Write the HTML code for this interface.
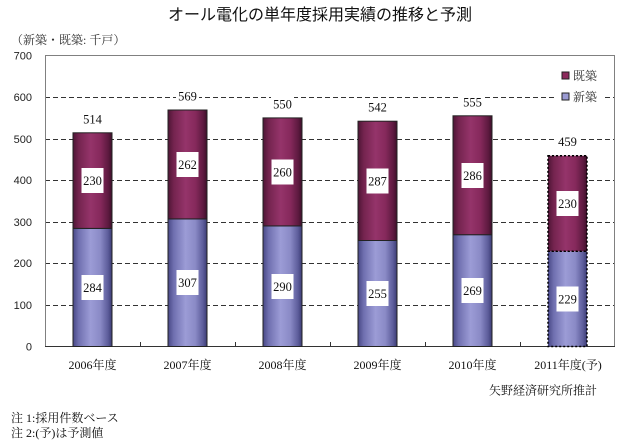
<!DOCTYPE html>
<html><head><meta charset="utf-8"><style>
html,body{margin:0;padding:0;background:#fff;}
svg{display:block;}
.ser{font-family:"Liberation Serif","Noto Serif CJK SC",serif;}
.san{font-family:"Liberation Sans","Noto Sans CJK JP",sans-serif;}
</style></head><body>
<svg width="640" height="441" viewBox="0 0 640 441" xmlns="http://www.w3.org/2000/svg">
<defs>
<linearGradient id="gm" x1="0" x2="1" y1="0" y2="0">
<stop offset="0" stop-color="#4e1535"/>
<stop offset="0.15" stop-color="#74244f"/>
<stop offset="0.45" stop-color="#95346a"/>
<stop offset="0.7" stop-color="#86295c"/>
<stop offset="0.9" stop-color="#5e1a40"/>
<stop offset="1" stop-color="#3e0f29"/>
</linearGradient>
<linearGradient id="gb" x1="0" x2="1" y1="0" y2="0">
<stop offset="0" stop-color="#484886"/>
<stop offset="0.15" stop-color="#7070b0"/>
<stop offset="0.45" stop-color="#9c9cd6"/>
<stop offset="0.7" stop-color="#8a8ac6"/>
<stop offset="0.9" stop-color="#5c5c9a"/>
<stop offset="1" stop-color="#3c3c74"/>
</linearGradient>
</defs>
<rect width="640" height="441" fill="#fff"/>

<text x="320" y="20" text-anchor="middle" class="san" font-size="16" fill="#111">オール電化の単年度採用実績の推移と予測</text>
<text x="11" y="44" class="ser" font-size="12" fill="#333">（新築・既築: 千戸）</text>

<!-- gridlines -->
<g stroke="#333" stroke-width="1" stroke-dasharray="5,3" fill="none">
<line x1="45" x2="615" y1="97.5" y2="97.5"/>
<line x1="45" x2="615" y1="139.5" y2="139.5"/>
<line x1="45" x2="615" y1="180.5" y2="180.5"/>
<line x1="45" x2="615" y1="222.5" y2="222.5"/>
<line x1="45" x2="615" y1="263.5" y2="263.5"/>
<line x1="45" x2="615" y1="305.5" y2="305.5"/>
</g>
<!-- plot border -->
<path d="M45.5 346.5 V55.5 H614.5 V346.5" fill="none" stroke="#808080" stroke-width="1"/>
<line x1="45" x2="615" y1="346.5" y2="346.5" stroke="#333" stroke-width="1"/>
<g stroke="#333" stroke-width="1">
<line x1="140.5" x2="140.5" y1="342" y2="346"/>
<line x1="235.5" x2="235.5" y1="342" y2="346"/>
<line x1="330.5" x2="330.5" y1="342" y2="346"/>
<line x1="425.5" x2="425.5" y1="342" y2="346"/>
<line x1="520.5" x2="520.5" y1="342" y2="346"/>
</g>

<!-- y labels -->
<g class="san" font-size="11" fill="#222" text-anchor="end">
<text x="32" y="59.5">700</text>
<text x="32" y="101">600</text>
<text x="32" y="143">500</text>
<text x="32" y="184">400</text>
<text x="32" y="226">300</text>
<text x="32" y="267">200</text>
<text x="32" y="309">100</text>
<text x="32" y="350.5">0</text>
</g>

<!-- bars -->
<g stroke="#222" stroke-width="1">
<rect x="73" y="228.4" width="39" height="118.1" fill="url(#gb)"/>
<rect x="73" y="132.8" width="39" height="95.6" fill="url(#gm)"/>
<rect x="168" y="218.9" width="39" height="127.6" fill="url(#gb)"/>
<rect x="168" y="110" width="39" height="108.9" fill="url(#gm)"/>
<rect x="263" y="225.9" width="39" height="120.6" fill="url(#gb)"/>
<rect x="263" y="117.9" width="39" height="108" fill="url(#gm)"/>
<rect x="358" y="240.5" width="39" height="106" fill="url(#gb)"/>
<rect x="358" y="121.2" width="39" height="119.3" fill="url(#gm)"/>
<rect x="453" y="234.7" width="39" height="111.8" fill="url(#gb)"/>
<rect x="453" y="115.8" width="39" height="118.9" fill="url(#gm)"/>
</g>
<g stroke="#000" stroke-width="1.5" stroke-dasharray="2,2">
<rect x="548" y="251.3" width="39" height="95.2" fill="url(#gb)"/>
<rect x="548" y="155.7" width="39" height="95.6" fill="url(#gm)"/>
</g>

<!-- value boxes -->
<g fill="#fff">
<rect x="81.5" y="275" width="22" height="25"/>
<rect x="81.5" y="168" width="22" height="25"/>
<rect x="176.5" y="270" width="22" height="25"/>
<rect x="176.5" y="152" width="22" height="25"/>
<rect x="271.5" y="274" width="22" height="25"/>
<rect x="271.5" y="159.5" width="22" height="25"/>
<rect x="366.5" y="281" width="22" height="25"/>
<rect x="366.5" y="168.5" width="22" height="25"/>
<rect x="461.5" y="278" width="22" height="25"/>
<rect x="461.5" y="163" width="22" height="25"/>
<rect x="556.5" y="286.5" width="22" height="25"/>
<rect x="556.5" y="191" width="22" height="25"/>
</g>
<g class="ser" font-size="12.5" fill="#111" text-anchor="middle">
<text x="92.5" y="292">284</text>
<text x="92.5" y="185">230</text>
<text x="187.5" y="287">307</text>
<text x="187.5" y="169">262</text>
<text x="282.5" y="291">290</text>
<text x="282.5" y="176.5">260</text>
<text x="377.5" y="298">255</text>
<text x="377.5" y="185.5">287</text>
<text x="472.5" y="295">269</text>
<text x="472.5" y="180">286</text>
<text x="567.5" y="303.5">229</text>
<text x="567.5" y="208">230</text>
</g>

<!-- totals -->
<g fill="#fff">
<rect x="81" y="112" width="23" height="14"/>
<rect x="176" y="89" width="23" height="14"/>
<rect x="271" y="97" width="23" height="14"/>
<rect x="366" y="100" width="23" height="14"/>
<rect x="461" y="95" width="23" height="14"/>
<rect x="556" y="134" width="23" height="14"/>
</g>
<g class="ser" font-size="12.5" fill="#111" text-anchor="middle">
<text x="92.5" y="123.5">514</text>
<text x="187.5" y="100.5">569</text>
<text x="282.5" y="108.5">550</text>
<text x="377.5" y="111.5">542</text>
<text x="472.5" y="106.5">555</text>
<text x="567.5" y="146">459</text>
</g>

<!-- legend -->
<rect x="557" y="66" width="45" height="40" fill="#fff"/>
<rect x="562" y="72" width="7" height="7" fill="#8c2a5c" stroke="#222" stroke-width="1"/>
<rect x="562" y="93" width="7" height="7" fill="#9a9ad2" stroke="#222" stroke-width="1"/>
<g class="ser" font-size="12" fill="#333">
<text x="573" y="80">既築</text>
<text x="573" y="101">新築</text>
</g>

<!-- x labels -->
<g class="ser" font-size="12" fill="#111" text-anchor="middle">
<text x="92.5" y="369">2006年度</text>
<text x="187.5" y="369">2007年度</text>
<text x="282.5" y="369">2008年度</text>
<text x="377.5" y="369">2009年度</text>
<text x="472.5" y="369">2010年度</text>
<text x="568" y="369">2011年度(予)</text>
</g>
<text x="597" y="394.5" text-anchor="end" class="ser" font-size="12" fill="#111">矢野経済研究所推計</text>
<text x="11" y="422" class="ser" font-size="12" fill="#111">注 1:採用件数ベース</text>
<text x="11" y="437" class="ser" font-size="12" fill="#111">注 2:(予)は予測値</text>
</svg>
</body></html>
